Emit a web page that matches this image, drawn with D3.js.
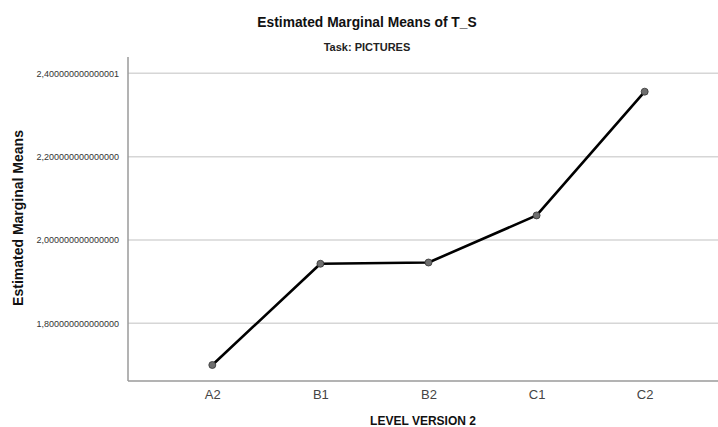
<!DOCTYPE html>
<html>
<head>
<meta charset="utf-8">
<script src="https://cdn.jsdelivr.net/npm/d3@7"></script>
<style>
  html, body { margin: 0; padding: 0; background: #fff; }
  svg { display: block; font-family: "Liberation Sans", Arial, sans-serif; }
</style>
</head>
<body>
<svg id="chart" width="718" height="427"></svg>
<script>
const categories = ["A2", "B1", "B2", "C1", "C2"];
const meanValues = [1.700, 1.943, 1.946, 2.059, 2.356];
const yTickValues = [1.8, 2.0, 2.2, 2.4];
const yTickLabels = ["1,800000000000000", "2,000000000000000", "2,200000000000000", "2,400000000000001"];
const chartTitle = "Estimated Marginal Means of T_S";
const chartSubtitle = "Task: PICTURES";
const xTitle = "LEVEL VERSION 2";
const yTitle = "Estimated Marginal Means";

(function () {
const svg = d3.select("#chart");
const pLeft = 128, pRight = 729, pTop = 57, pBottom = 381;

const x = d3.scalePoint().domain(categories).range([pLeft, pRight]).padding(0.78);
const y = d3.scaleLinear().domain([1.6616, 2.4392]).range([pBottom, pTop]);

// gridlines
svg.append("g").selectAll("line").data(yTickValues).join("line")
  .attr("x1", pLeft).attr("x2", 718)
  .attr("y1", d => y(d)).attr("y2", d => y(d))
  .attr("stroke", "#d6d6d6").attr("stroke-width", 1.5);

// y axis
const yAxis = d3.axisLeft(y).tickValues(yTickValues)
  .tickFormat((d, i) => yTickLabels[i]).tickSize(0).tickPadding(9);
const gy = svg.append("g").attr("transform", `translate(${pLeft},0)`).call(yAxis);
gy.select(".domain").remove();
gy.selectAll("text").attr("font-size", 9).attr("fill", "#333")
  .attr("font-family", "'Liberation Sans', Arial, sans-serif");

// x axis
const xAxis = d3.axisBottom(x).tickSize(0).tickPadding(9);
const gx = svg.append("g").attr("transform", `translate(0,${pBottom})`).call(xAxis);
gx.select(".domain").remove();
gx.selectAll("text").attr("font-size", 13).attr("fill", "#444")
  .attr("font-family", "'Liberation Sans', Arial, sans-serif");

// axis lines
svg.append("line").attr("x1", pLeft).attr("x2", pLeft).attr("y1", pTop).attr("y2", pBottom)
  .attr("stroke", "#9a9a9a").attr("stroke-width", 1.5);
svg.append("line").attr("x1", pLeft).attr("x2", 718).attr("y1", pBottom).attr("y2", pBottom)
  .attr("stroke", "#9a9a9a").attr("stroke-width", 1.5);

// line
const data = categories.map((c, i) => ({ c, v: meanValues[i] }));
svg.append("path").datum(data)
  .attr("d", d3.line().x(d => x(d.c)).y(d => y(d.v)))
  .attr("fill", "none").attr("stroke", "#000").attr("stroke-width", 2.6)
  .attr("stroke-linejoin", "round");

svg.append("g").selectAll("circle").data(data).join("circle")
  .attr("cx", d => x(d.c)).attr("cy", d => y(d.v)).attr("r", 3.5)
  .attr("fill", "#6e6e6e").attr("stroke", "#333").attr("stroke-width", 0.8);

// titles
svg.append("text").attr("x", 367).attr("y", 27).attr("text-anchor", "middle")
  .attr("font-size", 13.8).attr("font-weight", "bold").attr("fill", "#111").text(chartTitle);
svg.append("text").attr("x", 367).attr("y", 51).attr("text-anchor", "middle")
  .attr("font-size", 11).attr("font-weight", "bold").attr("fill", "#222").text(chartSubtitle);
svg.append("text").attr("x", 423).attr("y", 425).attr("text-anchor", "middle")
  .attr("font-size", 12).attr("font-weight", "bold").attr("fill", "#111").text(xTitle);
svg.append("text").attr("transform", "translate(23,218) rotate(-90)").attr("text-anchor", "middle")
  .attr("font-size", 14).attr("font-weight", "bold").attr("fill", "#111").text(yTitle);
})();
</script>
</body>
</html>
